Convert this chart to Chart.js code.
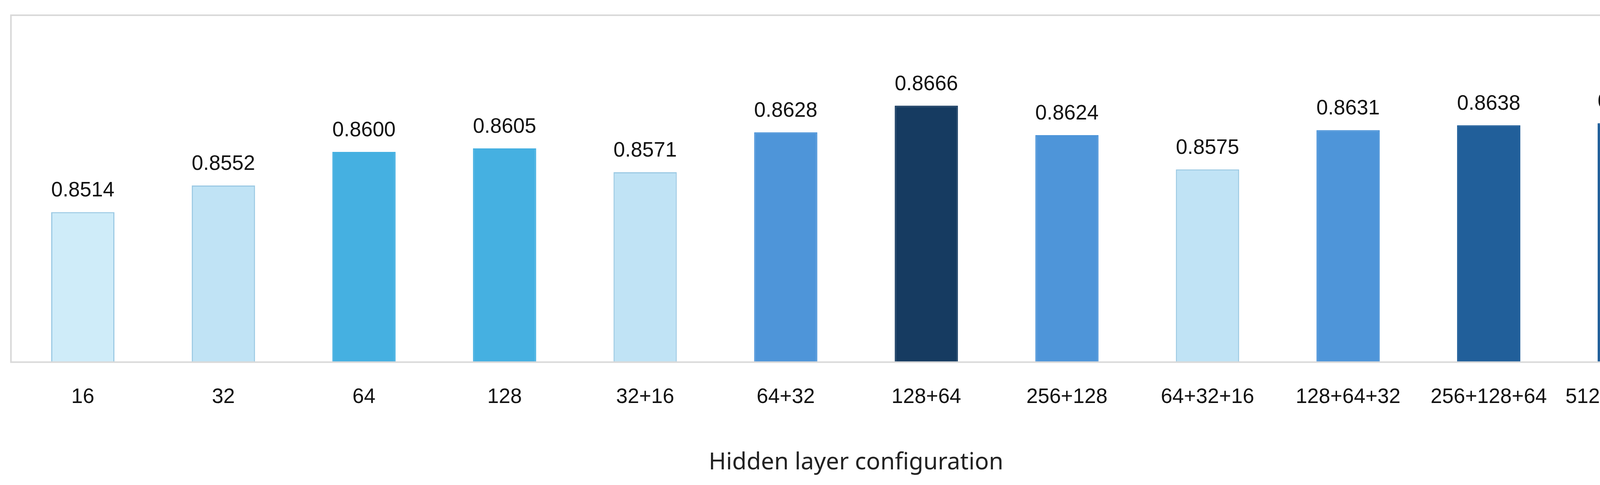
<!DOCTYPE html>
<html>
<head>
<meta charset="utf-8">
<script src="https://cdn.jsdelivr.net/npm/chart.js@4/dist/chart.umd.min.js"></script>
<style>
  html, body { margin: 0; padding: 0; background: #fff; overflow: hidden; }
  canvas { display: block; }
</style>
</head>
<body>
<canvas id="accChart" width="4386" height="1242" style="width:4386px;height:1242px"></canvas>
<script>
const configs = ['16', '32', '64', '128', '32+16', '64+32', '128+64', '256+128', '64+32+16', '128+64+32', '256+128+64', '512+256+128']
const accuracy = [0.8514, 0.8552, 0.8600, 0.8605, 0.8571, 0.8628, 0.8666, 0.8624, 0.8575, 0.8631, 0.8638, 0.8641]
const barColors = ['#CFECF9', '#C0E3F5', '#45B0E1', '#45B0E1', '#C0E3F5', '#4E95D9', '#163B61', '#4E95D9', '#C0E3F5', '#4E95D9', '#215F9A', '#215F9A']
const borderColors = ['#9CCAE4', '#9CCAE4', '#45B0E1', '#45B0E1', '#9CCAE4', '#4E95D9', '#163B61', '#4E95D9', '#9CCAE4', '#4E95D9', '#215F9A', '#215F9A']

// frame around the plot + value labels above bars
const extras = {
  id: 'extras',
  afterDatasetsDraw(chart) {
    const ctx = chart.ctx
    const a = chart.chartArea
    ctx.save()
    ctx.strokeStyle = '#D9D9D9'
    ctx.lineWidth = 4
    ctx.strokeRect(a.left - 4, a.top, a.right - a.left + 11, a.bottom - a.top)
    ctx.fillStyle = '#111'
    ctx.font = '53px "Liberation Sans", Arial, sans-serif'
    ctx.textAlign = 'center'
    ctx.textBaseline = 'bottom'
    chart.getDatasetMeta(0).data.forEach((bar, i) => {
      ctx.fillText(accuracy[i].toFixed(4), bar.x, bar.y - 28)
    })
    ctx.restore()
  }
}

new Chart(document.getElementById('accChart'), {
  type: 'bar',
  data: {
    labels: configs,
    datasets: [{
      data: accuracy,
      backgroundColor: barColors,
      borderColor: borderColors,
      borderWidth: 3,
      categoryPercentage: 1,
      barPercentage: 0.45
    }]
  },
  options: {
    responsive: false,
    devicePixelRatio: 1,
    animation: false,
    layout: { padding: { left: 32, right: 34, top: 39, bottom: 17 } },
    plugins: { legend: { display: false }, tooltip: { enabled: false } },
    scales: {
      y: { display: false, min: 0.83, max: 0.8795 },
      x: {
        grid: { display: false },
        border: { display: false },
        ticks: {
          color: '#111',
          padding: 50,
          maxRotation: 0,
          autoSkip: false,
          font: { size: 53, family: '"Liberation Sans", Arial, sans-serif' }
        },
        title: {
          display: true,
          text: 'Hidden layer configuration',
          color: '#222',
          padding: { top: 50 },
          font: { size: 60, family: '"Noto Sans", sans-serif' }
        }
      }
    }
  },
  plugins: [extras]
})
</script>
</body>
</html>
